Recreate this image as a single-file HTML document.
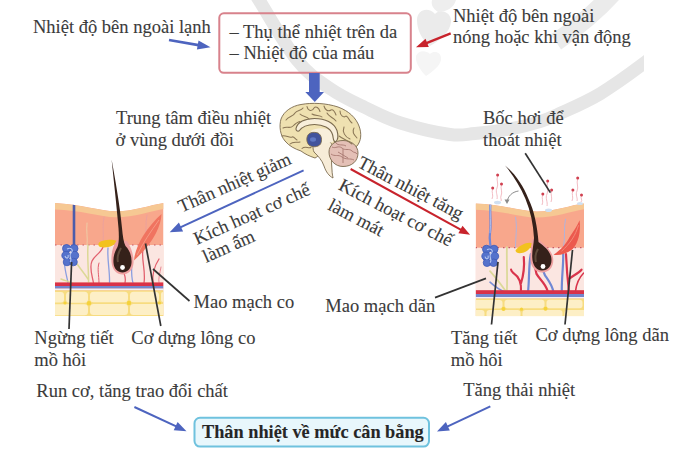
<!DOCTYPE html>
<html><head><meta charset="utf-8">
<style>
html,body{margin:0;padding:0;background:#fff;width:682px;height:453px;overflow:hidden}
svg{display:block}
text{font-family:"Liberation Serif",serif;font-size:18.5px;fill:#3b3b3b;stroke:#3b3b3b;stroke-width:0.1px}
</style></head><body>
<svg width="682" height="453" viewBox="0 0 682 453">
<defs>
<clipPath id="wm"><rect x="0" y="0" width="644" height="453"/></clipPath>
<clipPath id="cl"><path d="M0,0 C25,1 45,8 61,8.3 C80,8 95,2 108.5,0 L108.5,113 L0,113z"/></clipPath>
</defs>
<g clip-path="url(#wm)" fill="none" stroke="#e6e6e6" stroke-width="13">
<path d="M252,-12 C253.2,-10.0 251.5,-12.0 259,0 C266.5,12.0 285.2,45.2 297,60 C308.8,74.8 318.7,80.6 330,88.5 C341.3,96.4 353.2,101.8 365,107.5 C376.8,113.2 386.4,118.5 400.6,123 C414.8,127.5 437.6,132.8 450,134.5 C462.4,136.2 465.0,134.4 475,133.5 C485.0,132.6 499.2,131.0 510,129 C520.8,127.0 531.7,124.2 540,121.6 C548.3,119.0 550.0,118.1 560,113.5 C570.0,108.9 586.2,102.0 600,93.8 C613.8,85.5 632.2,72.1 643,64 C653.8,55.9 661.3,48.2 665,45"/>
<path d="M614,-8 C600,8 585,22 556,42" stroke="#ebebeb" stroke-width="18"/>
</g>
<g fill="#ebebeb">
<path d="M417,20 C417,10 428,6 435,14 C440,8 452,12 451,22 C450,32 440,40 430,46 C422,40 417,30 417,20z"/>
<path d="M416,56 C418,50 426,50 430,54 C434,50 442,52 441,60 C440,66 432,72 426,76 C420,70 415,62 416,56z" fill="#f5f5f5"/>
<path d="M432,0 L456,0 C454,8 446,12 438,12 C432,8 431,4 432,0z" fill="#eeeeee"/>
</g>

<text x="33" y="33.2">Nhiệt độ bên ngoài lạnh</text>
<rect x="219.3" y="13.3" width="191.5" height="59.5" rx="4.5" fill="none" stroke="#d8828c" stroke-width="2"/>
<text x="229.5" y="37.5">– Thụ thể nhiệt trên da</text>
<text x="229.5" y="59.3">– Nhiệt độ của máu</text>
<text x="453" y="21.8">Nhiệt độ bên ngoài</text>
<text x="453" y="42.9">nóng hoặc khi vận động</text>
<line x1="169.0" y1="40.0" x2="202.8" y2="45.9" stroke="#4d64bf" stroke-width="2.6"/><path d="M210.5,47.3 L196.9,49.5 L198.5,40.6z" fill="#4d64bf"/>
<line x1="450.7" y1="33.4" x2="422.7" y2="44.6" stroke="#c8232c" stroke-width="2.4"/><path d="M416.0,47.3 L425.5,38.7 L428.8,47.0z" fill="#c8232c"/>
<rect x="309" y="73" width="10.7" height="19.5" fill="#4d64bf"/><path d="M305.3,92 L324,92 L314.8,102z" fill="#4d64bf"/>
<text x="116" y="124.3">Trung tâm điều nhiệt</text>
<text x="115.5" y="145.7">ở vùng dưới đồi</text>
<text x="483" y="123.5">Bốc hơi để</text>
<text x="483" y="145.6">thoát nhiệt</text>
<!-- brain -->
<g stroke="#7a6a4e" stroke-width="0.9" stroke-linejoin="round">
<path d="M315,158 C309,156 305,154 301,151 C295,149 289,146 285,141 C280,135 279,126 281,119 C284,111 292,106 301,104.5 C312,102.5 326,103 338,107 C349,111 356,118 359,126 C362,134 361,141 357,146 C352,150 344,150 336,149 C330,149 324,152 320,154 C318,156 317,157 315,158z" fill="#efe1b1"/>
<path d="M313,146 C312,143 316,140 322,140 C328,140 332,142 332,146 C332,154 331,162 332,170 C332,174 333,177 333,178 C329,176 326,172 324,166 C322,160 318,156 314,152 C313,150 313,148 313,146z" fill="#f7ecd8"/>
<path d="M329,152 C329,145 335,140.5 343,140.5 C352,140.5 358,146 358,153 C358,161 352,166.5 343,166.5 C335,166.5 329,160 329,152z" fill="#e4c0b6"/>
<path d="M311,131 C316,127 326,127.5 331,131 C335,134 335,139 333,142 C328,143.5 320,143.5 314,143 C310,140 309,135 311,131z" fill="#f8efdb" stroke="none"/>
<path stroke-width="1.1" d="M296,128.5 C297.5,122 305,118.5 314.5,118.5 C325,118.5 334,122.5 337,130.5 C338.5,135.5 338,140 335.5,142 C333,141.5 333.5,138 332.5,134.5 C330.5,128 323,124.5 314.5,124.5 C307,124.5 301.5,127.5 299,131 C297,131.5 295.8,130.5 296,128.5z" fill="#f8efdb"/>
<path d="M307,137.5 C308,132.5 313,131.5 318,133 C321.5,135 322.5,140 320.5,144 C318,147.5 312,147.5 309,145 C307,143 306.5,140 307,137.5z" fill="#42539c"/>
</g>
<ellipse cx="313" cy="139.5" rx="3" ry="2.2" fill="#6078c4"/>
<g stroke="#8a7656" stroke-width="1.05" fill="none" stroke-linecap="round">
<path d="M286,120 C289,116 293,117 295,113 C297,110 301,111 303,108"/>
<path d="M307,106.5 C308,111 312,112 314,108 C316,105.5 319,108 320,111.5"/>
<path d="M324,106 C325,110 328,112 331,110 C333,109 335,112 336,115"/>
<path d="M340,111 C340,116 344,118 346,116 C349,117 349,121 352,123"/>
<path d="M283,128 C287,126 290,129 293,126 C295,124 297,122 300,121.5"/>
<path d="M354,128 C352,131 354,135 357,138"/>
<path d="M282,136 C286,135 289,138 292,137 C294,136 295,139 297,140"/>
<path d="M290,144 C293,141 297,143 300,142"/>
<path d="M302,148.5 C305,145.5 308,148.5 311,147.5"/>
<path d="M344,127 C342,132 345,137 350,139"/>
<path d="M300,114 C303,117 307,116 309,119"/>
<path d="M327,113 C329,117 333,117 336,121"/>
<path d="M312,114 C315,116 320,115 322,117"/>
<path d="M339,136 C343,139 347,140 352,144"/>
</g>
<g stroke="#a87870" stroke-width="0.9" fill="none">
<path d="M332,147 C336,149 338,145 342,148 C345,151 349,148 352,151 C354,153 356,152 357,154"/>
<path d="M331,154 C335,157 338,154 342,157 C346,160 350,158 354,160"/>
<path d="M336,143 C338,146 343,144 346,146"/>
<path d="M343,149 L343,163 M338,152 L348,158"/>
</g>

<line x1="303.6" y1="170.3" x2="176.5" y2="229.1" stroke="#4d64bf" stroke-width="2.0"/><path d="M169.7,232.3 L178.9,222.5 L183.1,231.6z" fill="#4d64bf"/>
<text transform="translate(181.6,212.8) rotate(-24)">Thân nhiệt giảm</text>
<text transform="translate(197,245) rotate(-24)">Kích hoạt cơ chế</text>
<text transform="translate(206,263) rotate(-24)">làm ấm</text>
<line x1="350.6" y1="169.0" x2="464.3" y2="231.6" stroke="#c8232c" stroke-width="2.0"/><path d="M470.1,234.8 L458.4,233.3 L462.5,225.7z" fill="#c8232c"/>
<text transform="translate(356.5,166.4) rotate(27.5)">Thân nhiệt tăng</text>
<text transform="translate(337.5,189) rotate(27.5)">Kích hoạt cơ chế</text>
<text transform="translate(326.7,209) rotate(27.5)">làm mát</text>
<!-- left skin -->
<g transform="translate(55,203)">
<g clip-path="url(#cl)">
<rect x="0" y="0" width="108.5" height="113" fill="#f8a78c"/>
<path d="M0,0 C25,1 45,8 61,8.3 C80,8 95,2 108.5,0 L108.5,6 C95,8 80,14.3 61,14.3 C45,14 25,7 0,6.5z" fill="#f6c893"/>
<rect x="0" y="42" width="108.5" height="37.5" fill="#fbe6e1"/>
<line x1="0" y1="42" x2="108.5" y2="42" stroke="#c85a6a" stroke-width="1.2" stroke-dasharray="1.5,4"/>
<g fill="none" stroke-width="1.3" stroke-linecap="round">
<path d="M38.5,80 C37,72 34,64 37,58 C40,52 46,50 48,44" stroke="#e2606e"/>
<path d="M44,80 C44,72 42,66 44,60" stroke="#e2606e" stroke-width="1"/>
<path d="M9.5,61 C10,68 12,74 13,80" stroke="#8a9ee0"/>
<path d="M53,45 C52,56 55,68 54.5,80" stroke="#8a9ee0"/>
<path d="M68,68 C70,72 71,76 70,80" stroke="#e2606e"/>
<path d="M76,52 C78,60 75,70 78,80" stroke="#8a9ee0"/>
<path d="M88,46 C86,56 91,68 89,80" stroke="#e2606e"/>
<path d="M104,56 C100,62 97,70 98,80" stroke="#e2606e"/>
<path d="M106,64 C105,70 103,76 104,80" stroke="#e88a96" stroke-width="1"/>
<path d="M33,42 C32,56 34,70 33.5,82" stroke="#dcd896" stroke-width="1.5"/>
<path d="M20,58 C24,64 29,70 33,76" stroke="#dcd896" stroke-width="1.5"/>
<path d="M6,76 C18,80 30,86 44,83 C54,81 64,84 75,81" stroke="#dcd896" stroke-width="1.5"/>
<path d="M32,20 C31,28 33,36 32,42" stroke="#ecd0a8" stroke-width="0.9"/>
<path d="M90,40 C92,30 90,20 92,12" stroke="#e8a0a0" stroke-width="0.8"/>
<path d="M48,40 C49,30 47,22 49,14" stroke="#e8a0a0" stroke-width="0.8"/>
</g>
<rect x="0" y="79.5" width="108.5" height="3.5" fill="#d93249"/>
<rect x="0" y="83" width="108.5" height="2.6" fill="#7486cc"/>
<rect x="0" y="85.6" width="108.5" height="1.8" fill="#f4f0f6"/>
<rect x="0" y="87.4" width="108.5" height="26" fill="#f7dc80"/>
<g fill="#fdefc6">
<rect x="-3" y="89" width="12" height="10.5" rx="3"/><rect x="11" y="88.8" width="22" height="11" rx="3.5"/><rect x="35" y="88.8" width="38" height="10.5" rx="3.5"/><rect x="75" y="88.8" width="29" height="10.5" rx="3.5"/><rect x="106" y="89" width="6" height="10" rx="2"/>
<rect x="-3" y="101.2" width="36" height="11" rx="3.5"/><rect x="35" y="101" width="38" height="11" rx="3.5"/><rect x="75" y="101" width="36" height="11" rx="3.5"/>
</g>
<g fill="#f5d23a"><circle cx="34" cy="100.2" r="2.2"/><circle cx="74" cy="100" r="2.2"/><circle cx="10" cy="100" r="1.6"/><circle cx="104.5" cy="100" r="1.6"/></g>
<line x1="19" y1="0" x2="19" y2="42" stroke="#4c5cab" stroke-width="2.6"/>
<g fill="#5572cc" stroke="#3f5ab8" stroke-width="0.8">
<circle cx="11.5" cy="45.5" r="4"/><circle cx="19" cy="45.5" r="4"/><circle cx="11" cy="52.5" r="4.2"/><circle cx="19.5" cy="52.5" r="4.2"/><circle cx="12" cy="59" r="3.8"/><circle cx="18.5" cy="59" r="3.8"/>
</g>
<path d="M12,46 C16,44 19,47 16,50 C13,53 18,56 15,59 M10,53 C11,56 14,56 13,52" stroke="#b4c6f2" stroke-width="1.1" fill="none"/>
<path d="M44,39.5 C48,36 58,36 62,38 C60,43 52,45.5 45,44 C43,43 43,41 44,39.5z" fill="#f2c21e"/>
<path d="M106.5,11 C106,24 98,40 79,57.5 C80,44 90,26 106.5,11z" fill="#f07460"/>
<path d="M104,17 C96,28 88,40 82,52" stroke="#f59a84" stroke-width="1" fill="none"/>
<path d="M62,37 C57.5,43 56,51 56.5,59 C57,67 62,71.5 67.5,71.5 C73,71.5 78,67.5 78.5,60 C79,52 76,44 72,38z" fill="#eea0a0"/>
</g>
</g>
<path d="M111.6,159.5 C113.5,178 116.5,205 118.5,228 C119,236 119.2,242 117.5,247 C114.5,252 113,257 113.5,263 C114,269 118,272.5 122.5,272.5 C127,272.5 131,269 131.5,263 C132,256 129.5,250 125.5,246 C123.5,242 122.8,236 122,228 C120,206 115,178 111.6,159.5z" fill="#35211a"/>
<path d="M121,248 C118,253 117,258 118,262" stroke="#5e4a3a" stroke-width="2" fill="none"/>
<circle cx="122.5" cy="267.5" r="2.4" fill="#fff"/>

<!-- right skin -->
<g transform="translate(475.5,203.2)">
<g clip-path="url(#cl)">
<rect x="0" y="0" width="108.5" height="113" fill="#f8a78c"/>
<path d="M0,0 C25,1 45,8 61,8.3 C80,8 95,2 108.5,0 L108.5,6 C95,8 80,14.3 61,14.3 C45,14 25,7 0,6.5z" fill="#f6c893"/>
<rect x="0" y="44.5" width="108.5" height="43" fill="#fbe6e1"/>
<line x1="0" y1="44.5" x2="108.5" y2="44.5" stroke="#c85a6a" stroke-width="1.2" stroke-dasharray="1.5,4"/>
<g fill="none" stroke-width="2.2" stroke-linecap="round">
<path d="M14.5,79 C20,84 24,87 30,89" stroke="#7a90d8" stroke-width="1.6"/>
<path d="M14.5,67.9 C20,74 26,82 30,87.5 M31.4,44 C31,58 32,72 31.4,88" stroke="#dcd99a" stroke-width="1.8"/>
<path d="M45.5,88 C46,80 44,74 38,70 C36,68 35.6,67 35.6,66.5 M45.5,80 C48,72 49,62 48.3,53.8" stroke="#d9344c"/>
<path d="M52.5,89 C54,76 53,62 55.3,51" stroke="#7088d4"/>
<path d="M72.2,88 C70,80 64,76 61,70.7 C60,66 59,62 58,58" stroke="#d9344c"/>
<path d="M77.9,89 C77,82 72,76 69.4,72 C68,68 67,66 66,64" stroke="#7088d4"/>
<path d="M86.3,88 C86,76 88,62 87.7,51" stroke="#7088d4"/>
<path d="M93.4,88 C92,76 91,62 90.5,51 M93,76 C98,72 103,70 106,66.5" stroke="#d9344c"/>
<path d="M40,44 C40,34 42,24 40,14" stroke="#a8b4e4" stroke-width="0.9"/>
<path d="M88,44 C90,34 88,24 90,16" stroke="#a8b4e4" stroke-width="0.9"/>
<path d="M100,88 C101,80 104,74 108,70" stroke="#d9344c" stroke-width="1.6"/>
</g>
<rect x="0" y="87" width="108.5" height="3.8" fill="#d93249"/>
<rect x="0" y="90.8" width="108.5" height="3" fill="#7486cc"/>
<rect x="0" y="93.8" width="108.5" height="1.6" fill="#f4f0f6"/>
<rect x="0" y="95.4" width="108.5" height="18" fill="#f7dc80"/>
<g fill="#fdefc6">
<rect x="-3" y="96.8" width="30" height="8.5" rx="3"/><rect x="29" y="96.6" width="40" height="8.5" rx="3"/><rect x="71" y="96.6" width="36" height="8.5" rx="3"/>
<rect x="-3" y="106.8" width="12" height="8" rx="3"/><rect x="11" y="106.8" width="34" height="8" rx="3"/><rect x="47" y="106.8" width="40" height="8" rx="3"/><rect x="89" y="106.8" width="22" height="8" rx="3"/>
</g>
<g fill="#f5d23a"><circle cx="28" cy="105.8" r="2"/><circle cx="70" cy="105.6" r="2"/><circle cx="46" cy="106" r="1.6"/></g>
<path d="M15,0 C14,10 16,20 14.5,30 C13.5,36 15,40 15,44" stroke="#6f86d8" stroke-width="2.2" fill="none"/>
<path d="M15,0 C14,10 16,20 14.5,30" stroke="#b8c8f0" stroke-width="0.8" fill="none"/>
<g fill="#5572cc" stroke="#3f5ab8" stroke-width="0.8">
<circle cx="11" cy="46" r="4"/><circle cx="18.5" cy="46" r="4"/><circle cx="10.5" cy="53" r="4.2"/><circle cx="19" cy="53" r="4.2"/><circle cx="11.5" cy="59.5" r="3.8"/><circle cx="18" cy="59.5" r="3.8"/>
</g>
<path d="M11.5,46.5 C15.5,44.5 18.5,47.5 15.5,50.5 C12.5,53.5 17.5,56.5 14.5,59.5 M9.5,53.5 C10.5,56.5 13.5,56.5 12.5,52.5" stroke="#b4c6f2" stroke-width="1.1" fill="none"/>
<path d="M40,47 C44,42 52,38 57,40 C56,45 50,50 44,50 C42,50 40,49 40,47z" fill="#f2c21e"/>
<path d="M104.1,17 C105.5,28 103,40 97,46 C91,50.5 84,52.5 78,51.5 C86,46 91,40 94,34 C98,28 102,22 104.1,17z" fill="#ec5a4e"/><path d="M103,22 C100,32 95,40 86,48" stroke="#f38a78" stroke-width="1" fill="none"/>
<path d="M56.5,36 C56,42 54.8,48 54.8,55 C54.8,63 59.5,69.2 66.5,69.2 C73.5,69.2 77.8,64 77.8,57 C77.8,49 71,43 64,37z" fill="#eea0a0"/>
</g>
</g>
<path d="M505,165.5 C513,175 520,186 525.5,199 C530.5,211 533.3,224 534,238 C533.8,244 532,250 532.2,257 C532.5,265 536,270.5 542,270.5 C548,270.5 551.5,266 551.5,260 C551.5,252 545,247 538.5,242 C537.5,228 534.5,211 528.3,198.5 C523,185.5 515.5,174 505,165.5z" fill="#35211a"/>
<path d="M538,249 C535.5,253 535,258 536,262" stroke="#5e4a3a" stroke-width="2" fill="none"/>
<circle cx="543" cy="266.5" r="2.4" fill="#fff"/>
<path d="M518.5,191 C512,192 508,196 507,202" stroke="#8a8a8a" stroke-width="1" fill="none"/>
<path d="M504.5,199.5 L507,204 L509.5,199.5z" fill="#8a8a8a"/>
<g fill="#cfe0f2"><ellipse cx="497.5" cy="202.5" rx="3.5" ry="1.8"/><ellipse cx="548.5" cy="210.3" rx="3.5" ry="1.8"/><ellipse cx="580" cy="203.5" rx="3" ry="1.6"/></g>
<g stroke="#f0b4bc" stroke-width="0.9" fill="none">
<path d="M497.6,176 C496,180 499,184 497,188 C495,192 498,195 497,199"/>
<path d="M492.7,189 C491,192 494,195 492,199"/>
<path d="M501.5,185 C500,188 503,192 501,196 C500,198 502,200 501,201"/>
<path d="M547.7,182 C546,186 549,190 547,194 C545,198 548,202 547,206"/>
<path d="M542.8,195 C541,198 544,201 542,205"/>
<path d="M551.6,191 C550,194 553,198 551,202"/>
<path d="M577.7,179 C576,183 579,187 577,191 C575,195 578,198 577,201"/>
<path d="M572.9,191 C571,194 574,197 572,201"/>
<path d="M581.5,196 C580,198 583,200 581,202"/>
</g>
<g fill="#d04050">
<circle cx="497.6" cy="175" r="1.5"/><circle cx="492.7" cy="188" r="1.5"/><circle cx="501.5" cy="184" r="1.5"/>
<circle cx="547.7" cy="181" r="1.5"/><circle cx="542.8" cy="194" r="1.5"/><circle cx="551.6" cy="190" r="1.5"/>
<circle cx="577.7" cy="178" r="1.5"/><circle cx="572.9" cy="190" r="1.5"/><circle cx="581.5" cy="195" r="1.5"/>
</g>

<g stroke="#333" stroke-width="1.7" fill="none">
<line x1="71.6" y1="262" x2="69" y2="329"/>
<line x1="145.5" y1="243.5" x2="160.8" y2="326"/>
<line x1="153" y1="269" x2="189.5" y2="301"/>
<line x1="486" y1="278.4" x2="435" y2="297.6"/>
<line x1="498" y1="262" x2="491.5" y2="324.5"/>
<line x1="572.5" y1="250" x2="565" y2="324.5"/>
<line x1="525.2" y1="153.3" x2="550.4" y2="192.6"/>
</g>
<text x="193.5" y="308.1">Mao mạch co</text>
<text x="325.3" y="311.7">Mao mạch dãn</text>
<text x="34.3" y="344.2">Ngừng tiết</text>
<text x="34.3" y="366.3">mồ hôi</text>
<text x="131.3" y="343.8">Cơ dựng lông co</text>
<text x="451" y="344.3">Tăng tiết</text>
<text x="450.8" y="366.2">mồ hôi</text>
<text x="535.5" y="341">Cơ dựng lông dãn</text>
<text x="36.3" y="396.8">Run cơ, tăng trao đổi chất</text>
<text x="463.2" y="396">Tăng thải nhiệt</text>
<line x1="134.4" y1="407.0" x2="180.0" y2="428.2" stroke="#4d64bf" stroke-width="2.0"/><path d="M186.5,431.2 L173.7,430.3 L177.6,422.0z" fill="#4d64bf"/>
<line x1="490.3" y1="406.4" x2="443.5" y2="428.3" stroke="#4d64bf" stroke-width="2.0"/><path d="M437.0,431.4 L445.9,422.1 L449.8,430.5z" fill="#4d64bf"/>
<rect x="194.5" y="417.8" width="234.5" height="28.8" rx="5.5" fill="#e8f7fc" stroke="#6fc2de" stroke-width="2"/>
<text x="202" y="437.8" style="font-size:18.3px;font-weight:bold;fill:#262626;stroke:#262626;stroke-width:0.1px">Thân nhiệt về mức cân bằng</text>
</svg>
</body></html>
